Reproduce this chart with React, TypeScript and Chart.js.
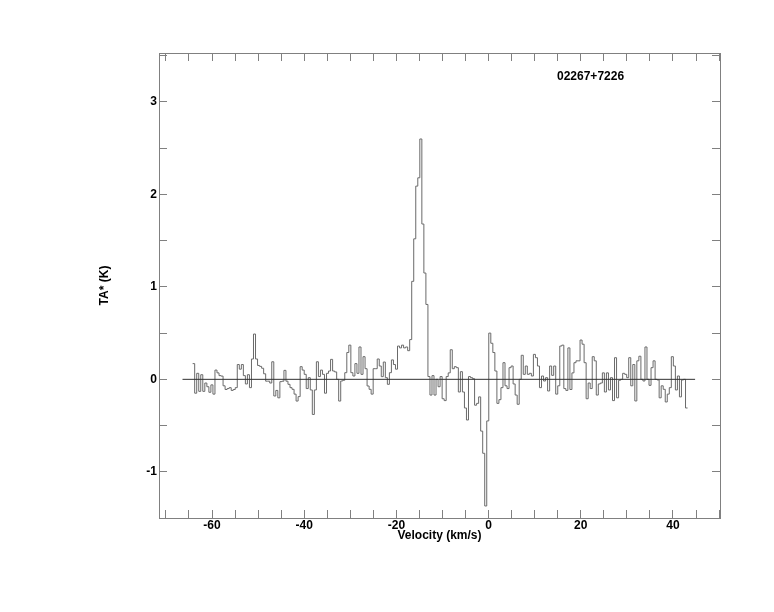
import React, { useEffect, useRef } from 'react';
import { Chart, registerables } from 'chart.js';

Chart.register(...registerables);

// ---- text ----
const SOURCE_NAME = '02267+7226';
const X_TITLE = 'Velocity (km/s)';
const Y_TITLE = 'TA* (K)';

// ---- axes ----
const X_MIN = -71.5;
const X_MAX = 50.2;
const Y_MIN = -1.5;
const Y_MAX = 3.53;
const X_LABEL_STEP = 20;
const X_TICK_STEP = 5;
const Y_LABEL_STEP = 1;
const Y_TICK_STEP = 0.5;

// ---- channel grid (km/s) ----
const VELOCITY_START = -64.2;
const CHANNEL_WIDTH = 0.44;

// ---- zero baseline extent (km/s) ----
const BASELINE_FROM = -66.4;
const BASELINE_TO = 44.8;

// ---- antenna temperature per channel (K) ----
const tempSegA = [
  0.17, -0.15, 0.065, -0.13, 0.05, -0.13, -0.04, -0.08, -0.14, -0.06,
  -0.16, 0.1, 0.07, 0.04, 0.035, -0.07, -0.11, -0.1, -0.09, -0.12,
  -0.11, -0.09, 0.16, 0.11, 0.16, 0.04, -0.05, 0.05, -0.09, 0.22,
  0.49, 0.22, 0.15, 0.14, 0.12, 0.06, -0.02, -0.02, -0.04,
];
const tempSegB = [
  0.19, -0.18, -0.12, -0.2, -0.025, -0.02, 0.097, -0.02, -0.054, -0.09,
  -0.108, -0.16, -0.235, -0.187, 0.137, 0.1, 0.054, -0.1, 0.018, -0.115,
  -0.38, -0.115, 0.19, 0.03, 0.1, 0.054, -0.15, 0.065, 0.09, 0.216,
  0.09, 0.08, 0.0, -0.235, -0.018, -0.01, 0.072, 0.29, 0.37, 0.072,
  0.036, 0.17, 0.065, 0.35, 0.054, 0.245, 0.115, -0.072, -0.108, -0.16,
  0.115, 0.115, 0.22, 0.144, 0.029, 0.187, 0.018, -0.054, 0.072,
];
const tempSegC = [
  0.21, 0.16, 0.11, 0.36, 0.34, 0.37, 0.34, 0.35, 0.31, 0.43,
  1.06, 1.52, 2.09, 2.18, 2.6, 1.68, 1.15, 0.81, 0.03, -0.17,
  0.04, -0.17, 0.0, -0.08, 0.03, -0.21, -0.23, 0.03, 0.07, 0.32,
];
const tempSegD = [
  0.115, 0.137, 0.126, -0.137, 0.083, -0.137, -0.31, -0.44, 0.03, 0.018,
  0.007, -0.28, -0.26, -0.19, -0.56, -0.8, -1.37, -0.45, 0.5, 0.39,
  0.29, 0.09, -0.26, -0.22, -0.09, 0.18, -0.07, -0.1, 0.126, 0.144,
  -0.05, -0.17, -0.27, 0.0, 0.26, 0.054, 0.144, 0.054, 0.065, 0.036,
  0.27, 0.234, 0.144, -0.09, 0.036, -0.018, 0.018, -0.126, 0.144, 0.043,
  0.144, -0.16, -0.07, 0.36, 0.37,
];
const tempSegE = [
  -0.1, -0.12, 0.34, -0.11, 0.07, 0.18, 0.2, 0.2, 0.425, 0.38,
  0.18, -0.21, -0.04, -0.1, 0.245, 0.2, -0.17, -0.05, -0.04, 0.07,
  -0.137, 0.07, -0.115, 0.018, -0.23, 0.234, -0.2, -0.01, 0.0, 0.065,
  0.054, 0.018, 0.234, -0.07, 0.16, -0.234, 0.2, 0.25, 0.0, -0.018,
  0.35, 0.0, -0.065, 0.126, 0.2, 0.0, -0.007, -0.2, -0.07, -0.108,
  -0.245, -0.16, -0.09, 0.245, 0.144, -0.115, 0.036, -0.19, -0.007, 0.0,
  -0.31,
];
const antennaTemp = [...tempSegA, ...tempSegB, ...tempSegC, ...tempSegD, ...tempSegE];

const FONT_FAMILY = '"Liberation Sans", Arial, Helvetica, sans-serif';
const FRAME_COLOR = '#808080';
const LINE_COLOR = '#6a6a6a';
const ZERO_COLOR = '#303030';

const isMultiple = (v: number, step: number) =>
  Math.abs(v / step - Math.round(v / step)) < 1e-6;

function makeScale(position: string, showLabels: boolean, isX: boolean, size: number) {
  const step = isX ? X_TICK_STEP : Y_TICK_STEP;
  const labelStep = isX ? X_LABEL_STEP : Y_LABEL_STEP;
  return {
    type: 'linear',
    position,
    min: isX ? X_MIN : Y_MIN,
    max: isX ? X_MAX : Y_MAX,
    afterFit: (scale: any) => {
      if (isX) scale.height = size;
      else scale.width = size;
    },
    border: { display: true, color: FRAME_COLOR, width: 1 },
    grid: {
      drawOnChartArea: false,
      drawTicks: true,
      tickLength: -8,
      tickColor: FRAME_COLOR,
      tickWidth: 1,
    },
    ticks: {
      display: showLabels,
      stepSize: step,
      autoSkip: false,
      includeBounds: false,
      maxRotation: 0,
      minRotation: 0,
      padding: isX ? 8 : 10,
      color: '#000',
      font: { family: FONT_FAMILY, size: 12, weight: 'bold' },
      callback: (v: any) => {
        const n = Number(v);
        if (!isMultiple(n, labelStep)) return '';
        return String(Math.round(n));
      },
    },
    title: showLabels
      ? {
          display: true,
          text: isX ? X_TITLE : Y_TITLE,
          color: '#000',
          font: { family: FONT_FAMILY, size: 12, weight: 'bold' },
          padding: { top: 4, bottom: 4 },
        }
      : { display: false },
  };
}

const sourceLabelPlugin = {
  id: 'sourceLabel',
  afterDraw(chart: any) {
    const { ctx, chartArea } = chart;
    ctx.save();
    ctx.font = `bold 12px ${FONT_FAMILY}`;
    ctx.fillStyle = '#000';
    ctx.textBaseline = 'middle';
    ctx.textAlign = 'left';
    ctx.fillText(SOURCE_NAME, chartArea.left + 398, chartArea.top + 24);
    ctx.restore();
  },
};

export default function App() {
  const canvasRef = useRef<HTMLCanvasElement | null>(null);

  useEffect(() => {
    if (!canvasRef.current) return;
    const spectrumPoints = antennaTemp.map((t, i) => ({
      x: VELOCITY_START + i * CHANNEL_WIDTH,
      y: t,
    }));
    spectrumPoints.push({
      x: VELOCITY_START + antennaTemp.length * CHANNEL_WIDTH,
      y: antennaTemp[antennaTemp.length - 1],
    });

    const chart = new Chart(canvasRef.current, {
      type: 'line',
      data: {
        datasets: [
          {
            label: 'baseline',
            data: [
              { x: BASELINE_FROM, y: 0 },
              { x: BASELINE_TO, y: 0 },
            ],
            borderColor: ZERO_COLOR,
            borderWidth: 1,
            pointRadius: 0,
            fill: false,
            xAxisID: 'x',
            yAxisID: 'y',
          },
          {
            label: SOURCE_NAME,
            data: spectrumPoints,
            borderColor: LINE_COLOR,
            borderWidth: 1,
            pointRadius: 0,
            stepped: true,
            fill: false,
            xAxisID: 'x',
            yAxisID: 'y',
          },
        ],
      },
      options: {
        animation: false,
        responsive: false,
        devicePixelRatio: 1,
        parsing: false,
        normalized: true,
        layout: { padding: { left: 93, right: 54, top: 53, bottom: 65 } },
        plugins: {
          legend: { display: false },
          tooltip: { enabled: false },
          title: { display: false },
        },
        scales: {
          x: makeScale('bottom', true, true, 29),
          x2: makeScale('top', false, true, 0),
          y: makeScale('left', true, false, 66),
          y2: makeScale('right', false, false, 0),
        } as any,
      } as any,
      plugins: [sourceLabelPlugin],
    });
    return () => chart.destroy();
  }, []);

  return (
    <div style={{ position: 'absolute', left: 0, top: 0, width: 774, height: 612, background: '#fff' }}>
      <canvas ref={canvasRef} width={774} height={612} />
    </div>
  );
}
